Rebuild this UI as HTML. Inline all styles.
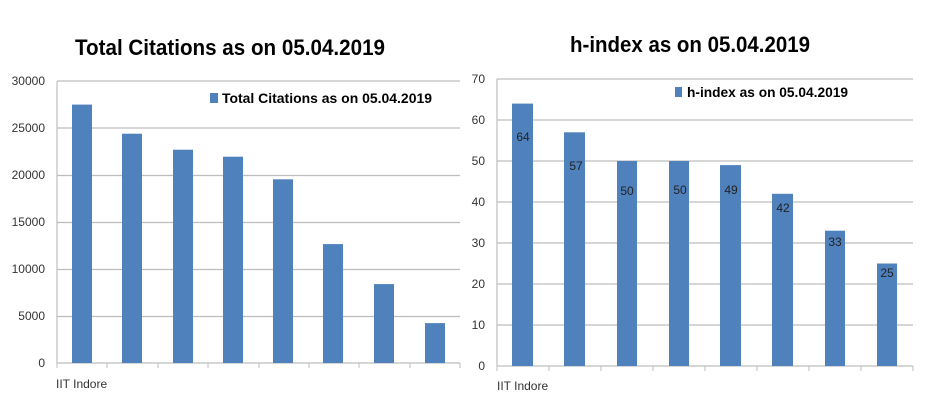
<!DOCTYPE html>
<html><head><style>body{margin:0;background:#fff}svg{display:block}</style></head><body>
<svg width="930" height="405" xmlns="http://www.w3.org/2000/svg" font-family="Liberation Sans, sans-serif">
<rect width="930" height="405" fill="#fff"/>
<text x="75" y="55" font-size="22" font-weight="bold" textLength="310" lengthAdjust="spacingAndGlyphs">Total Citations as on  05.04.2019</text>
<text x="570" y="52" font-size="22" font-weight="bold" textLength="240" lengthAdjust="spacingAndGlyphs">h-index as on 05.04.2019</text>
<g stroke="#bdbdbd" stroke-width="1.2">
<line x1="57" y1="81" x2="460" y2="81"/><line x1="57" y1="128" x2="460" y2="128"/><line x1="57" y1="175.5" x2="460" y2="175.5"/><line x1="57" y1="222.5" x2="460" y2="222.5"/><line x1="57" y1="269.5" x2="460" y2="269.5"/><line x1="57" y1="316.5" x2="460" y2="316.5"/>
<line x1="57" y1="81" x2="57" y2="363"/><line x1="57" y1="363" x2="460" y2="363"/>
<line x1="497" y1="79" x2="913" y2="79"/><line x1="497" y1="120" x2="913" y2="120"/><line x1="497" y1="161" x2="913" y2="161"/><line x1="497" y1="202" x2="913" y2="202"/><line x1="497" y1="243" x2="913" y2="243"/><line x1="497" y1="284" x2="913" y2="284"/><line x1="497" y1="325" x2="913" y2="325"/>
<line x1="497" y1="79" x2="497" y2="366"/><line x1="497" y1="366" x2="913" y2="366"/>
</g>
<g stroke="#bdbdbd"><line x1="57" y1="363" x2="57" y2="368"/><line x1="107" y1="363" x2="107" y2="368"/><line x1="158" y1="363" x2="158" y2="368"/><line x1="208" y1="363" x2="208" y2="368"/><line x1="259" y1="363" x2="259" y2="368"/><line x1="309" y1="363" x2="309" y2="368"/><line x1="359" y1="363" x2="359" y2="368"/><line x1="410" y1="363" x2="410" y2="368"/><line x1="460" y1="363" x2="460" y2="368"/>
<line x1="497" y1="366" x2="497" y2="371"/><line x1="549" y1="366" x2="549" y2="371"/><line x1="601" y1="366" x2="601" y2="371"/><line x1="653" y1="366" x2="653" y2="371"/><line x1="705" y1="366" x2="705" y2="371"/><line x1="757" y1="366" x2="757" y2="371"/><line x1="809" y1="366" x2="809" y2="371"/><line x1="861" y1="366" x2="861" y2="371"/><line x1="913" y1="366" x2="913" y2="371"/></g>
<g font-size="12" fill="#333" text-anchor="end">
<text x="45" y="85">30000</text><text x="45" y="132">25000</text><text x="45" y="179">20000</text><text x="45" y="226">15000</text><text x="45" y="273">10000</text><text x="45" y="320">5000</text><text x="45" y="367">0</text>
<text x="485" y="83">70</text><text x="485" y="124">60</text><text x="485" y="165">50</text><text x="485" y="206">40</text><text x="485" y="247">30</text><text x="485" y="288">20</text><text x="485" y="329">10</text><text x="485" y="370">0</text>
</g>
<g font-size="12" fill="#333"><text x="56" y="388">IIT Indore</text><text x="497" y="390">IIT Indore</text></g>
<g fill="#4f81bd">
<rect x="72" y="104.6" width="20" height="258.4"/>
<rect x="122" y="133.7" width="20" height="229.3"/>
<rect x="173" y="149.7" width="20" height="213.3"/>
<rect x="223" y="156.7" width="20" height="206.3"/>
<rect x="273" y="179.3" width="20" height="183.7"/>
<rect x="323" y="244.1" width="20" height="118.9"/>
<rect x="374" y="284.1" width="20" height="78.9"/>
<rect x="425" y="323.1" width="20" height="39.9"/>
<rect x="512" y="103.6" width="21" height="262.4"/>
<rect x="564" y="132.3" width="21" height="233.7"/>
<rect x="617" y="161" width="20" height="205"/>
<rect x="669" y="161" width="20" height="205"/>
<rect x="720" y="165.1" width="21" height="200.9"/>
<rect x="772" y="193.8" width="21" height="172.2"/>
<rect x="825" y="230.7" width="20" height="135.3"/>
<rect x="877" y="263.5" width="20" height="102.5"/>
<rect x="210" y="93" width="8" height="10"/>
<rect x="675" y="87" width="7" height="10"/>
</g>
<g font-size="12" fill="#222" text-anchor="middle">
<text x="523" y="141">64</text><text x="576" y="170">57</text><text x="627" y="195">50</text><text x="680" y="194">50</text><text x="731" y="194">49</text><text x="783" y="212">42</text><text x="835" y="246">33</text><text x="887" y="277">25</text>
</g>
<text x="222" y="103" font-size="14" font-weight="bold" textLength="210" lengthAdjust="spacingAndGlyphs">Total Citations as on  05.04.2019</text>
<text x="687" y="97" font-size="14" font-weight="bold" textLength="161" lengthAdjust="spacingAndGlyphs">h-index as on 05.04.2019</text>
</svg>
</body></html>
